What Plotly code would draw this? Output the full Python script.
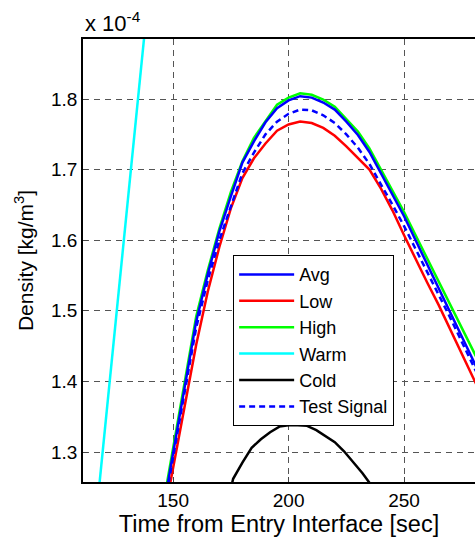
import plotly.graph_objects as go

# Time grid (sec) for the main curves
t_main = [145, 150, 155, 160, 165, 170, 175, 180, 185, 190, 195, 200, 205, 210,
          215, 220, 225, 230, 235, 240, 245, 250, 255, 260, 265, 270, 275, 280, 285]

# Density values in units of 1e-4 kg/m^3
avg = [1.205, 1.300, 1.390, 1.485, 1.552, 1.612, 1.662, 1.710, 1.740, 1.767, 1.787, 1.798, 1.804, 1.802,
       1.795, 1.785, 1.768, 1.749, 1.725, 1.695, 1.664, 1.634, 1.600, 1.566, 1.533, 1.500, 1.465, 1.430, 1.395]
low = [1.190, 1.279, 1.366, 1.452, 1.527, 1.590, 1.645, 1.688, 1.716, 1.737, 1.755, 1.764, 1.768, 1.766,
       1.759, 1.748, 1.733, 1.717, 1.700, 1.673, 1.642, 1.607, 1.573, 1.540, 1.508, 1.474, 1.440, 1.405, 1.370]
high = [1.212, 1.307, 1.398, 1.492, 1.557, 1.616, 1.668, 1.712, 1.745, 1.769, 1.792, 1.802, 1.808, 1.806,
        1.799, 1.789, 1.772, 1.754, 1.730, 1.700, 1.670, 1.640, 1.607, 1.574, 1.540, 1.508, 1.475, 1.442, 1.410]
test = [1.200, 1.295, 1.385, 1.476, 1.543, 1.600, 1.648, 1.695, 1.724, 1.750, 1.768, 1.779, 1.785, 1.784,
        1.777, 1.766, 1.750, 1.731, 1.708, 1.680, 1.650, 1.620, 1.588, 1.555, 1.522, 1.490, 1.456, 1.422, 1.388]

t_warm = [112, 115, 120, 125, 130, 135, 140]
warm = [1.055, 1.153, 1.316, 1.480, 1.643, 1.806, 1.970]

t_cold = [170, 174, 176, 180, 184, 188, 192, 196, 200, 204, 208, 212, 216, 220, 224, 228, 232, 236, 240]
cold = [1.180, 1.235, 1.262, 1.285, 1.306, 1.318, 1.328, 1.336, 1.338, 1.338, 1.337, 1.331, 1.322, 1.314,
        1.301, 1.286, 1.270, 1.252, 1.228]

x_ticks = [150, 200, 250]
y_ticks = [1.3, 1.4, 1.5, 1.6, 1.7, 1.8]
y_ticktext = ["1.3", "1.4", "1.5", "1.6", "1.7", "1.8"]

FONT = "Liberation Sans, Arial, Helvetica, sans-serif"
LW = 2.5

fig = go.Figure()
fig.add_trace(go.Scatter(x=t_main, y=high, mode="lines", name="High",
                         line=dict(color="#00ff00", width=LW), legendrank=3))
fig.add_trace(go.Scatter(x=t_main, y=avg, mode="lines", name="Avg",
                         line=dict(color="#0000ff", width=LW), legendrank=1))
fig.add_trace(go.Scatter(x=t_main, y=low, mode="lines", name="Low",
                         line=dict(color="#ff0000", width=LW), legendrank=2))
fig.add_trace(go.Scatter(x=t_warm, y=warm, mode="lines", name="Warm",
                         line=dict(color="#00ffff", width=LW), legendrank=4))
fig.add_trace(go.Scatter(x=t_cold, y=cold, mode="lines", name="Cold",
                         line=dict(color="#000000", width=LW), legendrank=5))
fig.add_trace(go.Scatter(x=t_main, y=test, mode="lines", name="Test Signal",
                         line=dict(color="#0000ff", width=LW, dash="6px,4px"), legendrank=6))

fig.update_layout(
    width=475, height=537,
    margin=dict(l=83, r=0, t=39, b=55, autoexpand=False),
    paper_bgcolor="white", plot_bgcolor="white",
    font=dict(family=FONT, size=18, color="black"),
    showlegend=True,
    legend=dict(x=0.383, y=0.512, xanchor="left", yanchor="top",
                bgcolor="white", bordercolor="black", borderwidth=1,
                itemwidth=55,
                font=dict(size=18, family=FONT)),
    xaxis=dict(range=[111.0, 280.7], tickvals=x_ticks, ticks="inside", ticklen=5,
               showline=True, linecolor="black", linewidth=1.5, mirror=True,
               showgrid=True, gridcolor="#555555", gridwidth=1, griddash="6px,5px",
               zeroline=False, tickfont=dict(size=19),
               title=dict(text="Time from Entry Interface [sec]", font=dict(size=23.5), standoff=3)),
    yaxis=dict(range=[1.2575, 1.885], tickvals=y_ticks, ticktext=y_ticktext,
               ticks="inside", ticklen=5,
               showline=True, linecolor="black", linewidth=1.5, mirror=False,
               showgrid=True, gridcolor="#555555", gridwidth=1, griddash="6px,5px",
               zeroline=False, tickfont=dict(size=19),
               title=dict(text="Density [kg/m<sup>3</sup>]", font=dict(size=21), standoff=12)),
    annotations=[dict(text="x 10<sup>-4</sup>", xref="paper", yref="paper", x=0, y=1,
                      xanchor="left", yanchor="bottom", yshift=1, showarrow=False,
                      font=dict(size=22, family=FONT))],
)

# Remove the default page margin so the figure fills the window exactly; hide the modebar.
fig.write_html("out.html",
               config={"displayModeBar": False},
               post_script="document.body.style.margin='0';document.body.style.overflow='hidden';")
